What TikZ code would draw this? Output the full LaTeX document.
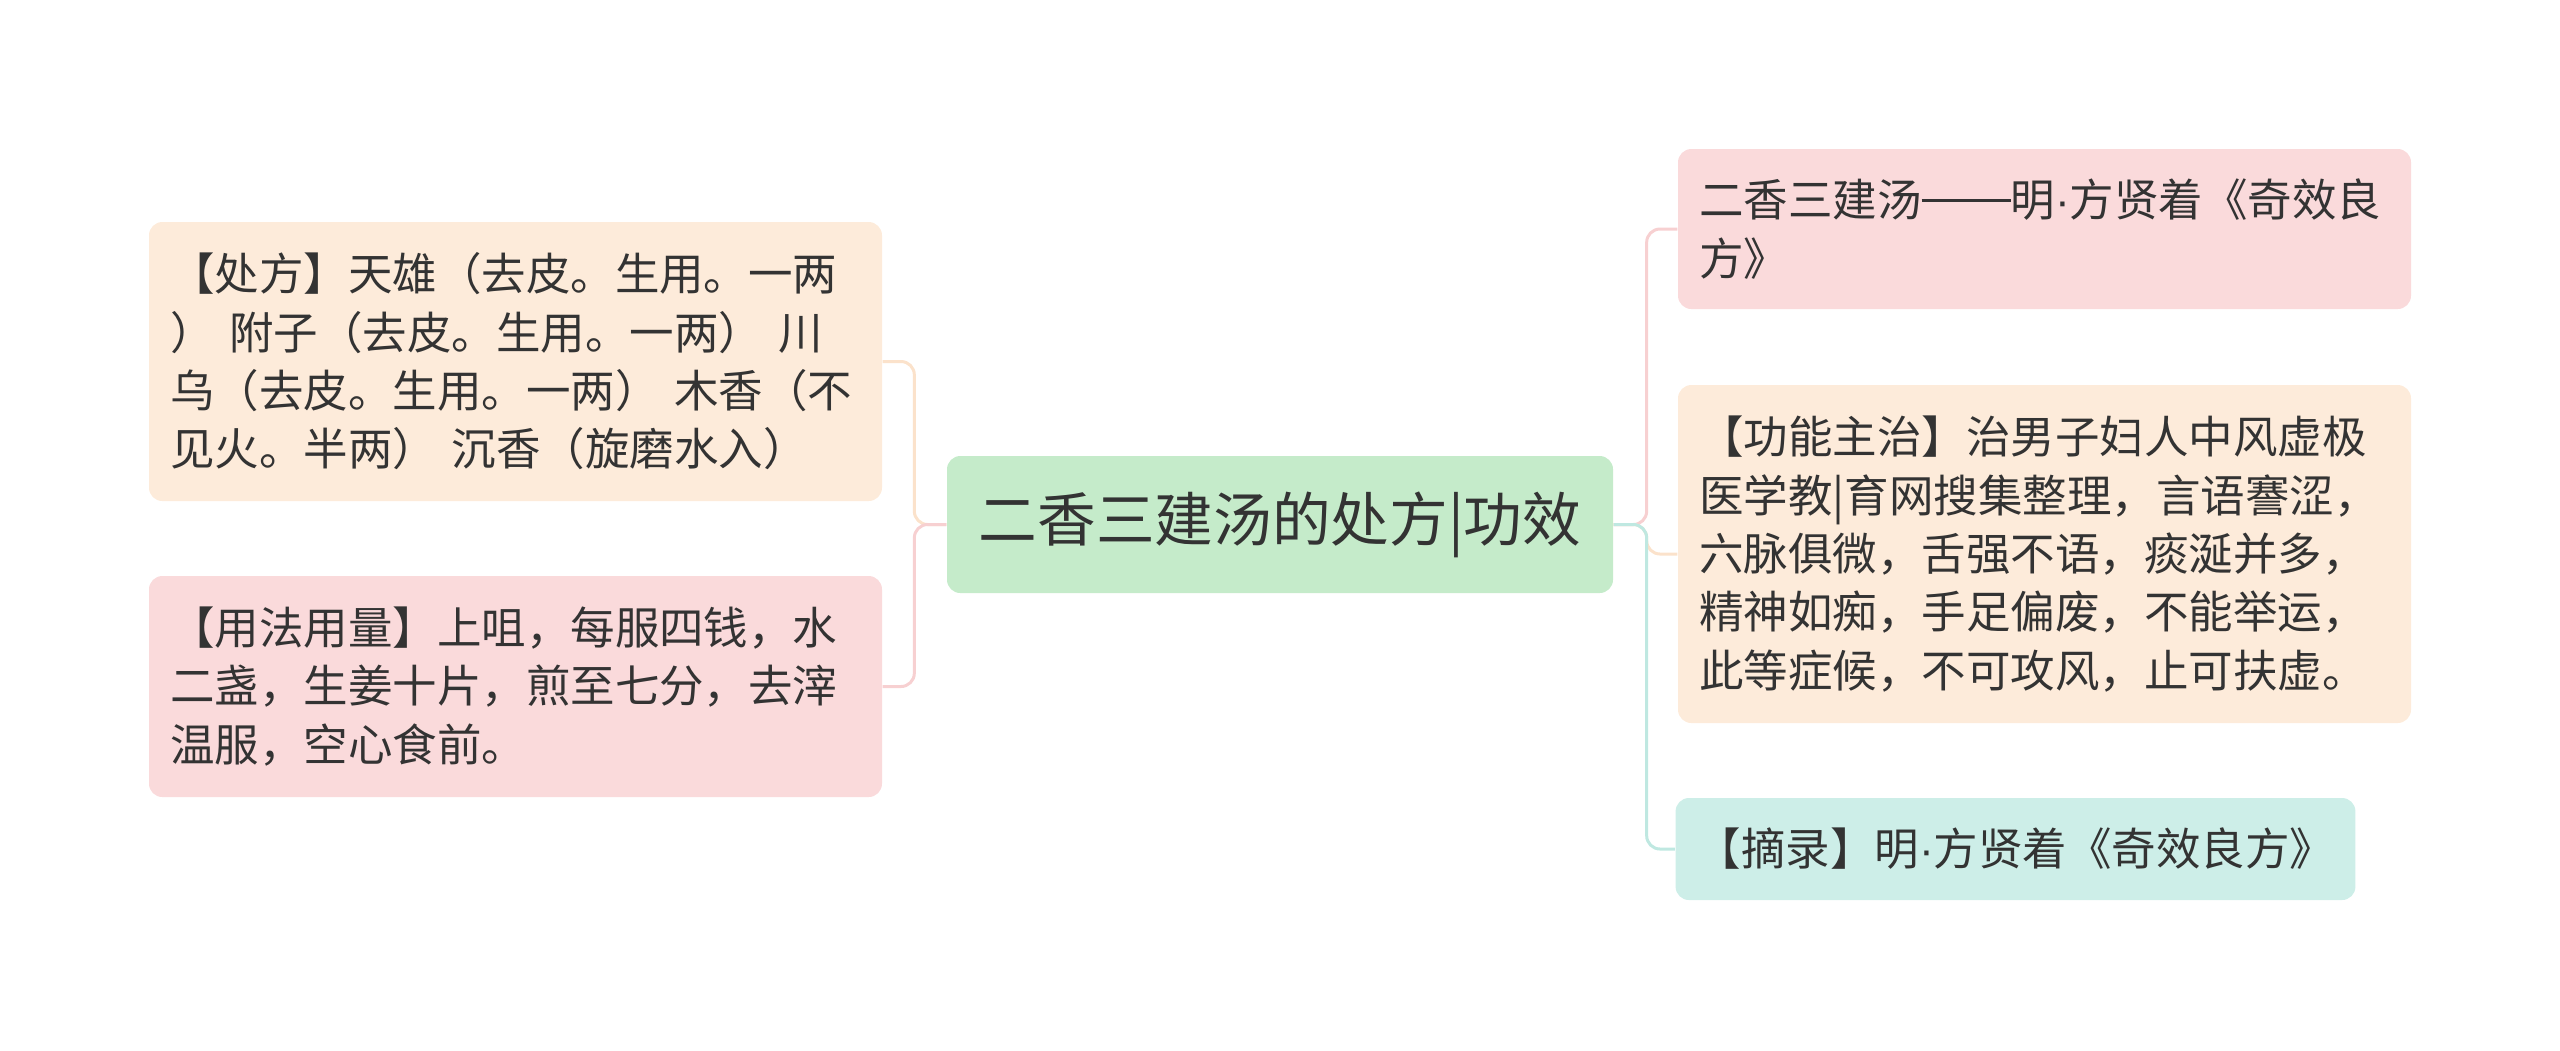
\documentclass[tikz,border=0pt]{standalone}
\usepackage{fontspec}
\setmainfont{Noto Sans CJK SC}
\newfontfamily\latinfont{Liberation Sans}
\newcommand{\mdot}{{\latinfont ·}}
\newcommand{\ddash}{\rule[0.34em]{2em}{0.06em}}
\definecolor{peachfill}{HTML}{FDEBDA}
\definecolor{pinkfill}{HTML}{FADADB}
\definecolor{greenfill}{HTML}{C5EBCA}
\definecolor{tealfill}{HTML}{CDEEE8}
\definecolor{peachline}{HTML}{FBE2CB}
\definecolor{pinkline}{HTML}{F7D0D1}
\definecolor{tealline}{HTML}{BFE8E1}
\definecolor{txt}{HTML}{333333}
\tikzset{
  box/.style={rounded corners=4pt, text=txt, align=left, inner xsep=6.3pt, inner ysep=0pt,
    anchor=center, font=\fontsize{13.35pt}{17.5pt}\selectfont},
  widebox/.style={box, minimum width=219.9pt, text width=207.3pt},
  link/.style={line width=0.9pt, rounded corners=4pt},
}
\begin{document}
\begin{tikzpicture}[x=0.3pt, y=-0.3pt]
\useasboundingbox (0,0) rectangle (2560,1050);
% center
\node[box, fill=greenfill, minimum width=199.8pt, minimum height=41.1pt,
      font=\fontsize{17.6pt}{22pt}\selectfont] (c) at (1280,524.5) {二香三建汤的处方|功效};
% left
\node[widebox, fill=peachfill, minimum height=83.7pt] (l1) at (515.5,361.5)
  {【处方】天雄（去皮。生用。一两\\） 附子（去皮。生用。一两） 川\\乌（去皮。生用。一两） 木香（不\\见火。半两） 沉香（旋磨水入）};
\node[widebox, fill=pinkfill, minimum height=66.3pt] (l2) at (515.5,686.5)
  {【用法用量】上咀，每服四钱，水\\二盏，生姜十片，煎至七分，去滓\\温服，空心食前。};
% right
\node[widebox, fill=pinkfill, minimum height=48pt] (r1) at (2044.5,229)
  {二香三建汤\ddash 明\mdot 方贤着《奇效良\\方》};
\node[widebox, fill=peachfill, minimum height=101.4pt] (r2) at (2044.5,554)
  {【功能主治】治男子妇人中风虚极\\医学教|育网搜集整理，言语謇涩，\\六脉俱微，舌强不语，痰涎并多，\\精神如痴，手足偏废，不能举运，\\此等症候，不可攻风，止可扶虚。};
\node[box, fill=tealfill, minimum width=202.5pt, minimum height=30.6pt] (r3) at (2015.5,849)
  {【摘录】明\mdot 方贤着《奇效良方》};
% connectors
\draw[link, peachline] (c.west) -- ++(-32,0) |- (l1.east);
\draw[link, pinkline] (c.west) -- ++(-32,0) |- (l2.east);
\draw[link, pinkline] (c.east) -- ++(33,0) |- (r1.west);
\draw[link, peachline] (c.east) -- ++(33,0) |- (r2.west);
\draw[link, tealline] (c.east) -- ++(33,0) |- (r3.west);
\end{tikzpicture}
\end{document}
